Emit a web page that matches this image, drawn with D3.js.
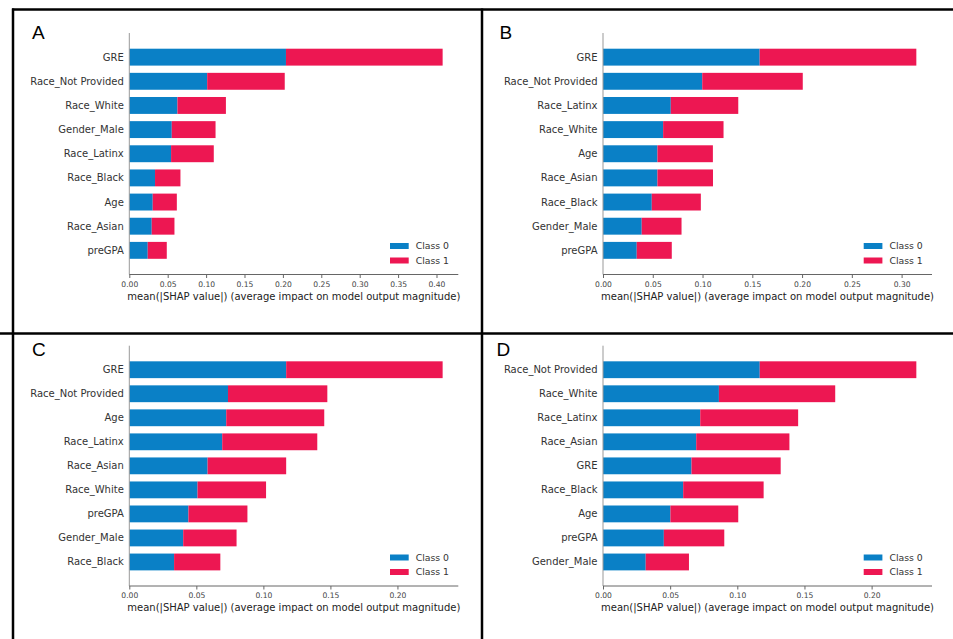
<!DOCTYPE html>
<html>
<head>
<meta charset="utf-8">
<script src="https://cdn.jsdelivr.net/npm/d3@7"></script>
<style>
  body { margin: 0; background: #fff; }
  text { font-family: "DejaVu Sans", sans-serif; }
</style>
</head>
<body>
<script>
// mean(|SHAP value|) per feature, top to bottom
var featuresA = ['GRE', 'Race_Not Provided', 'Race_White', 'Gender_Male', 'Race_Latinx', 'Race_Black', 'Age', 'Race_Asian', 'preGPA'];
var class0A = [0.204, 0.1014, 0.0627, 0.0553, 0.0544, 0.0335, 0.0305, 0.0292, 0.024];
var class1A = [0.204, 0.101, 0.0631, 0.057, 0.0556, 0.0331, 0.0314, 0.0296, 0.0248];
var ticksA = [0, 0.05, 0.10, 0.15, 0.20, 0.25, 0.30, 0.35, 0.40];

var featuresB = ['GRE', 'Race_Not Provided', 'Race_Latinx', 'Race_White', 'Age', 'Race_Asian', 'Race_Black', 'Gender_Male', 'preGPA'];
var class0B = [0.1574, 0.0997, 0.0681, 0.0604, 0.0547, 0.0547, 0.049, 0.0389, 0.0339];
var class1B = [0.1574, 0.101, 0.0678, 0.0607, 0.0557, 0.0558, 0.0493, 0.04, 0.0352];
var ticksB = [0, 0.05, 0.10, 0.15, 0.20, 0.25, 0.30];

var featuresC = ['GRE', 'Race_Not Provided', 'Age', 'Race_Latinx', 'Race_Asian', 'Race_White', 'preGPA', 'Gender_Male', 'Race_Black'];
var class0C = [0.117, 0.0736, 0.0723, 0.0693, 0.0584, 0.0509, 0.0441, 0.0402, 0.0334];
var class1C = [0.1167, 0.0741, 0.0731, 0.0709, 0.0586, 0.0511, 0.044, 0.0398, 0.0345];
var ticksC = [0, 0.05, 0.10, 0.15, 0.20];

var featuresD = ['Race_Not Provided', 'Race_White', 'Race_Latinx', 'Race_Asian', 'GRE', 'Race_Black', 'Age', 'preGPA', 'Gender_Male'];
var class0D = [0.1167, 0.0863, 0.0724, 0.0694, 0.0659, 0.0597, 0.0502, 0.0453, 0.0318];
var class1D = [0.1166, 0.0866, 0.0729, 0.0694, 0.0664, 0.0599, 0.0505, 0.045, 0.0322];
var ticksD = [0, 0.05, 0.10, 0.15, 0.20];

var classNames = ['Class 0', 'Class 1'];
var classColors = ['#0a80c6', '#ed1752'];

var W = 953, H = 639;
var svg = d3.select('body').append('svg')
	.attr('width', W)
	.attr('height', H);

// panel placement
var panels = [
	{ letter: 'A', feats: featuresA, c0: class0A, c1: class1A, ticks: ticksA, x0: 129.3, top: 33, bottom: 274.5, lx: 32, ly: 39 },
	{ letter: 'B', feats: featuresB, c0: class0B, c1: class1B, ticks: ticksB, x0: 603, top: 33, bottom: 274.5, lx: 499.5, ly: 39 },
	{ letter: 'C', feats: featuresC, c0: class0C, c1: class1C, ticks: ticksC, x0: 129.3, top: 345.7, bottom: 586, lx: 32, ly: 356 },
	{ letter: 'D', feats: featuresD, c0: class0D, c1: class1D, ticks: ticksD, x0: 603, top: 345.7, bottom: 586, lx: 496.5, ly: 356 }
];
var plotW = 329;

panels.forEach(function (p) {
	var n = p.feats.length;
	var totals = p.c0.map(function (v, i) { return v + p.c1[i]; });
	var x = d3.scaleLinear()
		.domain([0, d3.max(totals) * 1.05])
		.range([p.x0, p.x0 + plotW]);
	// shap puts the top feature at n-1, limits are -1..n
	var y = d3.scaleLinear()
		.domain([-1, n])
		.range([p.bottom, p.top]);
	var bh = y(0) - y(0.7);

	var g = svg.append('g');

	// stacked bars
	p.feats.forEach(function (f, i) {
		var yi = n - 1 - i;
		g.append('rect')
			.attr('x', x(0))
			.attr('y', y(yi) - bh / 2)
			.attr('width', x(p.c0[i]) - x(0))
			.attr('height', bh)
			.attr('fill', classColors[0]);
		g.append('rect')
			.attr('x', x(p.c0[i]))
			.attr('y', y(yi) - bh / 2)
			.attr('width', x(totals[i]) - x(p.c0[i]))
			.attr('height', bh)
			.attr('fill', classColors[1]);
		g.append('text')
			.attr('x', x(0) - 5.5)
			.attr('y', y(yi))
			.attr('dy', '0.35em')
			.attr('text-anchor', 'end')
			.attr('font-size', 10)
			.attr('fill', '#333')
			.text(f);
	});

	// left spine
	g.append('line')
		.attr('x1', x(0)).attr('x2', x(0))
		.attr('y1', p.top).attr('y2', p.bottom)
		.attr('stroke', '#999').attr('stroke-width', 1);

	// x axis
	var xAxis = d3.axisBottom(x)
		.tickValues(p.ticks)
		.tickFormat(d3.format('.2f'))
		.tickSize(3.5)
		.tickPadding(3.5);
	var ax = g.append('g')
		.attr('transform', 'translate(0,' + p.bottom + ')')
		.call(xAxis);
	ax.select('.domain').attr('stroke', '#666').attr('d', 'M' + p.x0 + ',0H' + (p.x0 + plotW));
	ax.selectAll('.tick line').attr('stroke', '#666');
	ax.selectAll('.tick text')
		.attr('font-family', '"DejaVu Sans", sans-serif')
		.attr('font-size', 7.6)
		.attr('fill', '#444');

	g.append('text')
		.attr('x', p.x0 + plotW / 2)
		.attr('y', p.bottom + 25)
		.attr('text-anchor', 'middle')
		.attr('font-size', 10)
		.attr('fill', '#222')
		.text('mean(|SHAP value|) (average impact on model output magnitude)');

	// legend
	classNames.forEach(function (c, k) {
		var ly = p.bottom - 28.5 + k * 14.5;
		g.append('rect')
			.attr('x', p.x0 + plotW - 68.3)
			.attr('y', ly - 3)
			.attr('width', 18.7)
			.attr('height', 6)
			.attr('fill', classColors[k]);
		g.append('text')
			.attr('x', p.x0 + plotW - 42.6)
			.attr('y', ly)
			.attr('dy', '0.35em')
			.attr('font-size', 9.3)
			.attr('fill', '#333')
			.text(c);
	});

	// panel letter
	svg.append('text')
		.attr('x', p.lx)
		.attr('y', p.ly)
		.attr('font-family', '"Liberation Sans", Arial, sans-serif')
		.attr('font-size', 19)
		.attr('fill', '#000')
		.style('font-family', '"Liberation Sans", Arial, sans-serif')
		.text(p.letter);
});

// frame lines
var frame = svg.append('g').attr('stroke', '#000').attr('stroke-width', 2.5);
frame.append('line').attr('x1', 12).attr('x2', W).attr('y1', 9.5).attr('y2', 9.5);
frame.append('line').attr('x1', 13).attr('x2', 13).attr('y1', 8.5).attr('y2', H);
frame.append('line').attr('x1', 482).attr('x2', 482).attr('y1', 8.5).attr('y2', H);
frame.append('line').attr('x1', 0).attr('x2', W).attr('y1', 333.5).attr('y2', 333.5);
</script>
</body>
</html>
